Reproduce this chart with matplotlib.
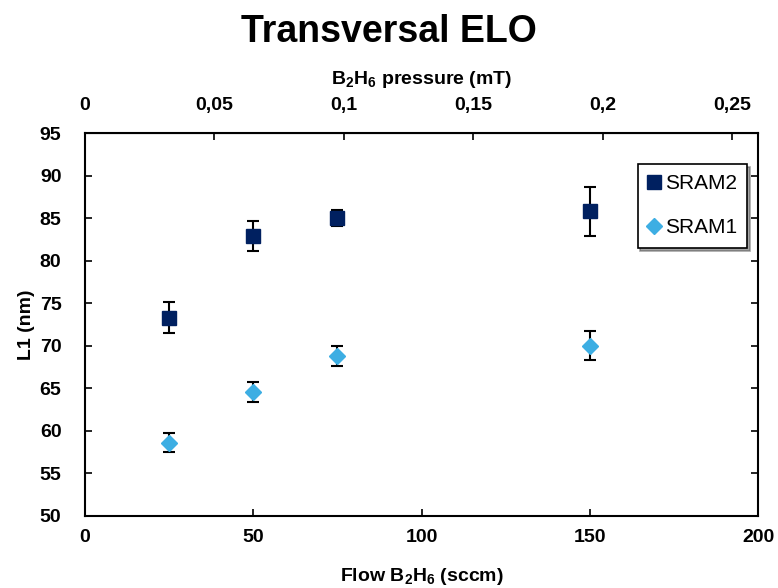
import numpy as np
import matplotlib.pyplot as plt

plt.rcParams['font.family'] = ['Liberation Sans', 'DejaVu Sans']
plt.rcParams['font.weight'] = 'bold'
plt.rcParams['mathtext.default'] = 'regular'

# --- Data ---
flow = [25, 50, 75, 150]
sram2 = [73.3, 82.9, 85.0, 85.8]
sram2_err = [1.8, 1.8, 0.9, 2.9]
sram1 = [58.6, 64.6, 68.8, 70.0]
sram1_err = [1.1, 1.2, 1.2, 1.7]

mt_per_sccm = 0.0013
top_ticks = [0, 0.05, 0.1, 0.15, 0.2, 0.25]
top_labels = ["0", "0,05", "0,1", "0,15", "0,2", "0,25"]

# --- Plot ---
fig = plt.figure(figsize=(7.78, 5.88), dpi=100)
ax = fig.add_axes([85/778, 1 - 516/588, 673/778, 383/588])

ax.errorbar(flow, sram2, yerr=sram2_err, fmt='none', ecolor='black',
            elinewidth=1.5, capsize=4.5, capthick=1.5, zorder=2)
ax.errorbar(flow, sram1, yerr=sram1_err, fmt='none', ecolor='black',
            elinewidth=1.5, capsize=4.5, capthick=1.5, zorder=2)
ax.plot(flow, sram2, 's', color='#002060', markersize=10.5,
        label="SRAM2", zorder=3)
ax.plot(flow, sram1, 'D', color='#3DAEE3', markersize=8.5,
        label="SRAM1", zorder=3)

ax.set_xlim(0, 200)
ax.set_ylim(50, 95)
ax.set_xticks(np.arange(0, 201, 50))
ax.set_yticks(np.arange(50, 96, 5))
ax.tick_params(direction='in', labelsize=14, right=True, length=5,
               width=1.2)
ax.tick_params(axis='x', pad=9)
ax.tick_params(axis='y', pad=17)
for s in ax.spines.values():
    s.set_linewidth(1.5)

ax.set_xlabel("Flow B$_2$H$_6$ (sccm)", fontsize=14, fontweight='bold',
              labelpad=15)
ax.set_ylabel("L1 (nm)", fontsize=14, fontweight='bold', labelpad=3)

top = ax.secondary_xaxis('top', functions=(lambda x: x * mt_per_sccm,
                                           lambda p: p / mt_per_sccm))
top.set_xticks(top_ticks)
top.set_xticklabels(top_labels)
top.tick_params(direction='in', labelsize=14, length=5, width=1.2, pad=14)
top.set_xlabel("B$_2$H$_6$ pressure (mT)", fontsize=14, fontweight='bold',
               labelpad=9)

fig.suptitle("Transversal ELO", fontsize=27, fontweight='bold', y=0.977)

leg = ax.legend(loc='upper right', bbox_to_anchor=(0.984, 0.919), fontsize=15,
                frameon=True, fancybox=False, shadow=True, handlelength=0.6,
                handletextpad=0.2, labelspacing=1.2, borderpad=0.5,
                borderaxespad=0)
leg.get_frame().set_edgecolor('black')
leg.get_frame().set_linewidth(1.2)
for t in leg.get_texts():
    t.set_fontweight('normal')

fig.savefig("out.png", dpi=100)
